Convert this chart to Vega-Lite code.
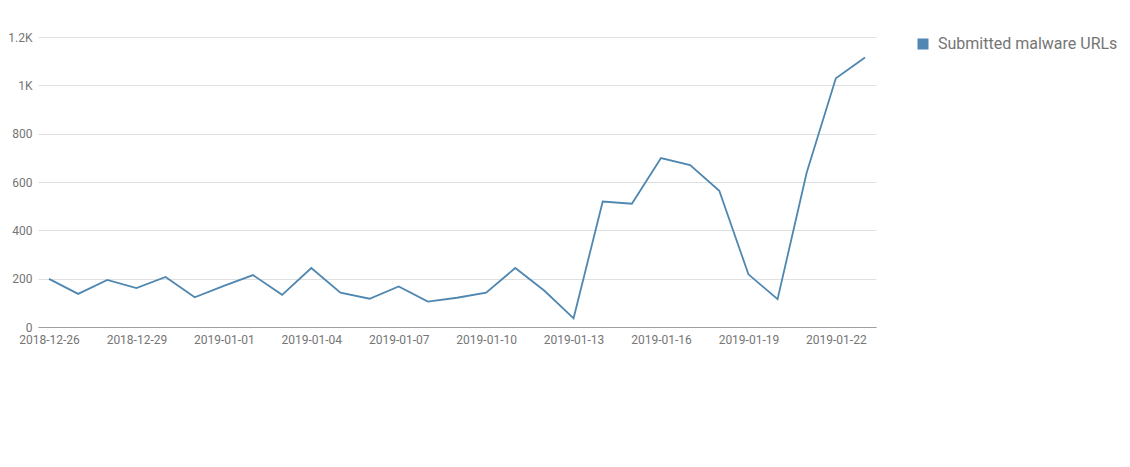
{
  "$schema": "https://vega.github.io/schema/vega-lite/v6.json",
  "autosize": {"type": "none"},
  "width": 838,
  "height": 290,
  "padding": {"left": 38, "top": 37, "right": 254, "bottom": 140},
  "config": {
    "view": {"stroke": null},
    "font": "Roboto",
    "axis": {"labelFont": "Roboto", "labelColor": "#757575", "labelFontSize": 12, "title": null}
  },
  "data": {
    "values": [
      {"date": "2018-12-26", "count": 199},
      {"date": "2018-12-27", "count": 137},
      {"date": "2018-12-28", "count": 195},
      {"date": "2018-12-29", "count": 161},
      {"date": "2018-12-30", "count": 207},
      {"date": "2018-12-31", "count": 123},
      {"date": "2019-01-01", "count": 170},
      {"date": "2019-01-02", "count": 215},
      {"date": "2019-01-03", "count": 133},
      {"date": "2019-01-04", "count": 244},
      {"date": "2019-01-05", "count": 142},
      {"date": "2019-01-06", "count": 117},
      {"date": "2019-01-07", "count": 168},
      {"date": "2019-01-08", "count": 105},
      {"date": "2019-01-09", "count": 121},
      {"date": "2019-01-10", "count": 142},
      {"date": "2019-01-11", "count": 244},
      {"date": "2019-01-12", "count": 150},
      {"date": "2019-01-13", "count": 36},
      {"date": "2019-01-14", "count": 519},
      {"date": "2019-01-15", "count": 510},
      {"date": "2019-01-16", "count": 699},
      {"date": "2019-01-17", "count": 670},
      {"date": "2019-01-18", "count": 564},
      {"date": "2019-01-19", "count": 218},
      {"date": "2019-01-20", "count": 115},
      {"date": "2019-01-21", "count": 639},
      {"date": "2019-01-22", "count": 1029},
      {"date": "2019-01-23", "count": 1115}
    ]
  },
  "mark": {"type": "line", "strokeWidth": 1.8},
  "encoding": {
    "x": {
      "field": "date",
      "type": "temporal",
      "scale": {"type": "utc", "padding": 11},
      "axis": {
        "format": "%Y-%m-%d",
        "values": [
          {"year": 2018, "month": 12, "date": 26, "utc": true},
          {"year": 2018, "month": 12, "date": 29, "utc": true},
          {"year": 2019, "month": 1, "date": 1, "utc": true},
          {"year": 2019, "month": 1, "date": 4, "utc": true},
          {"year": 2019, "month": 1, "date": 7, "utc": true},
          {"year": 2019, "month": 1, "date": 10, "utc": true},
          {"year": 2019, "month": 1, "date": 13, "utc": true},
          {"year": 2019, "month": 1, "date": 16, "utc": true},
          {"year": 2019, "month": 1, "date": 19, "utc": true},
          {"year": 2019, "month": 1, "date": 22, "utc": true}
        ],
        "ticks": false,
        "grid": false,
        "domainColor": "#9e9e9e",
        "labelPadding": 7,
        "labelFlush": false,
        "labelOverlap": false
      }
    },
    "y": {
      "field": "count",
      "type": "quantitative",
      "scale": {"domain": [0, 1200], "nice": false},
      "axis": {
        "values": [0, 200, 400, 600, 800, 1000, 1200],
        "labelExpr": "datum.value >= 1000 ? format(datum.value / 1000, '~g') + 'K' : datum.label",
        "ticks": false,
        "domain": false,
        "gridColor": "#e0e0e0",
        "labelPadding": 6
      }
    },
    "color": {
      "datum": "Submitted malware URLs",
      "type": "nominal",
      "scale": {"range": ["#4f87b0"]},
      "legend": {
        "title": null,
        "orient": "none",
        "legendX": 877,
        "legendY": -1,
        "symbolType": "square",
        "symbolSize": 121,
        "symbolFillColor": "#5087b3",
        "symbolStrokeWidth": 0,
        "labelFont": "Roboto",
        "labelFontSize": 16,
        "labelLimit": 300,
        "labelColor": "#757575",
        "labelOffset": 7
      }
    }
  }
}
